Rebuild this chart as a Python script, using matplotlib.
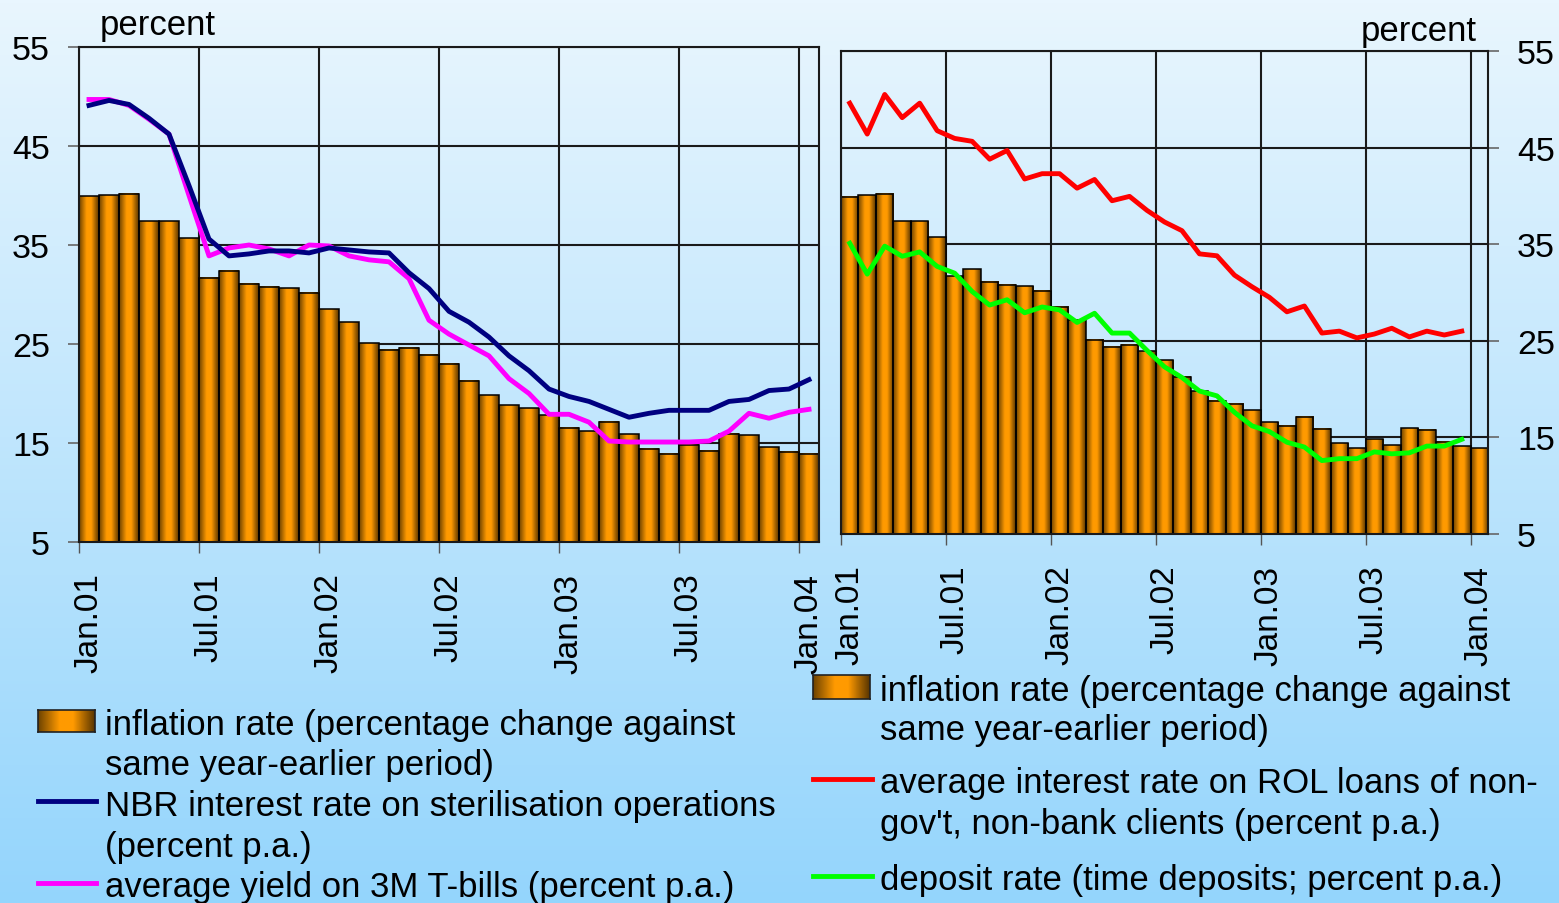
import numpy as np
import matplotlib
matplotlib.use('Agg')
import matplotlib.pyplot as plt
from matplotlib.colors import LinearSegmentedColormap
from matplotlib.lines import Line2D

plt.rcParams['font.family'] = ['Liberation Sans', 'DejaVu Sans']

# monthly data Jan.01 .. Jan.04
months = np.arange(37)
tick_pos = [0, 6, 12, 18, 24, 30, 36]
tick_labels = ['Jan.01', 'Jul.01', 'Jan.02', 'Jul.02', 'Jan.03', 'Jul.03', 'Jan.04']

inflation = [39.9, 40.05, 40.2, 37.4, 37.4, 35.7, 31.7, 32.4, 31.1, 30.8, 30.65, 30.2,
             28.5, 27.2, 25.1, 24.4, 24.6, 23.9, 23.0, 21.3, 19.8, 18.8, 18.5, 17.8,
             16.55, 16.2, 17.15, 15.9, 14.4, 13.9, 14.8, 14.2, 15.95, 15.8, 14.55, 14.1, 13.9]

nbr_rate = [49.1, 49.6, 49.2, 47.8, 46.2, 41.0, 35.6, 33.9, 34.1, 34.4, 34.4, 34.2,
            34.7, 34.5, 34.3, 34.2, 32.2, 30.6, 28.3, 27.2, 25.7, 23.8, 22.3, 20.45,
            19.7, 19.2, 18.4, 17.6, 18.0, 18.3, 18.3, 18.3, 19.2, 19.4, 20.3, 20.45, 21.4]

tbill_yield = [49.7, 49.7, 49.1, 47.7, 46.2, 40.0, 33.9, 34.7, 35.0, 34.6, 33.9, 35.0,
               34.9, 33.9, 33.5, 33.3, 31.6, 27.4, 26.0, 24.9, 23.8, 21.5, 20.0, 17.9,
               17.9, 17.1, 15.2, 15.1, 15.1, 15.1, 15.1, 15.2, 16.2, 18.0, 17.5, 18.1, 18.4]

loan_rate = [49.6, 46.4, 50.5, 48.1, 49.6, 46.75, 45.95, 45.65, 43.8, 44.7, 41.75, 42.3,
             42.3, 40.8, 41.7, 39.5, 39.95, 38.5, 37.3, 36.4, 34.0, 33.8, 31.8, 30.6,
             29.5, 28.0, 28.6, 25.8, 26.0, 25.3, 25.7, 26.3, 25.4, 26.0, 25.6, 26.0]

deposit_rate = [35.1, 31.9, 34.8, 33.75, 34.2, 32.7, 32.0, 30.1, 28.7, 29.25, 27.9, 28.5,
                28.2, 26.9, 27.85, 25.8, 25.8, 24.0, 22.3, 21.2, 19.8, 19.3, 17.6, 16.2,
                15.6, 14.5, 14.0, 12.6, 12.8, 12.8, 13.5, 13.3, 13.4, 14.1, 14.1, 14.8]

W, H = 1559, 904
fig = plt.figure(figsize=(W / 100, H / 100), dpi=100)

# background gradient
bg = fig.add_axes([0, 0, 1, 1], zorder=-10)
top = np.array([233, 246, 254]) / 255
bot = np.array([148, 213, 252]) / 255
t = np.linspace(0, 1, 256)[:, None]
grad = top[None, :] * (1 - t) + bot[None, :] * t
bg.imshow(grad[:, None, :], aspect='auto', extent=[0, 1, 0, 1])
bg.axis('off')

bar_cmap = LinearSegmentedColormap.from_list(
    'cyl', [(0, '#6e4300'), (0.38, '#ff9a00'), (0.62, '#ff9a00'), (1, '#5a3600')])
bar_grad = np.linspace(0, 1, 64)[None, :]


def box(l, t_, r, b):
    return [l / W, 1 - b / H, (r - l) / W, (b - t_) / H]


def gradient_bars(ax, x, h):
    for xi, hi in zip(x, h):
        ax.imshow(bar_grad, cmap=bar_cmap, aspect='auto',
                  extent=[xi - 0.5, xi + 0.5, 0, hi], zorder=1.5)
    ax.bar(x, h, width=1.0, facecolor='none', edgecolor='black',
           linewidth=1.1, zorder=1.6)


def setup(ax, side):
    ax.set_facecolor('none')
    ax.set_xlim(-0.5, 36.5)
    ax.set_ylim(5, 55)
    ax.set_yticks([5, 15, 25, 35, 45, 55])
    ax.set_xticks(tick_pos)
    ax.set_xticklabels(tick_labels, rotation=90, fontsize=24)
    ax.set_xticks(np.arange(-0.5, 37, 6), minor=True)
    ax.tick_params(axis='x', which='major', length=0, pad=22)
    ax.tick_params(axis='x', which='minor', length=8, width=1, color='#555555')
    ax.tick_params(axis='y', length=8, width=1.2, color='#666666', labelsize=24.5, pad=13)
    if side == 'right':
        ax.yaxis.tick_right()
    ax.grid(True, which='minor', axis='x', color='#1a1a1a', linewidth=1.5)
    ax.grid(True, which='major', axis='y', color='#1a1a1a', linewidth=1.5)
    ax.set_axisbelow(True)
    for s in ax.spines.values():
        s.set_color('#1a1a1a')
        s.set_linewidth(1.5)


LW = 3.5

# left panel
ax1 = fig.add_axes(box(79, 48, 819, 543))
setup(ax1, 'left')
gradient_bars(ax1, months, inflation)
ax1.plot(months, tbill_yield, color='#ff00ff', linewidth=LW, zorder=3)
ax1.plot(months, nbr_rate, color='#000080', linewidth=LW, zorder=3.1)
ax1.set_ylim(5, 55)
ax1.set_xlim(-0.5, 36.5)

# right panel
ax2 = fig.add_axes(box(841, 52, 1488, 535))
setup(ax2, 'right')
gradient_bars(ax2, months, inflation)
ax2.plot(months[:len(loan_rate)], loan_rate, color='#ff0000', linewidth=LW, zorder=3)
ax2.plot(months[:len(deposit_rate)], deposit_rate, color='#00ff00', linewidth=LW, zorder=3)
ax2.set_ylim(5, 55)
ax2.set_xlim(-0.5, 36.5)

fig.text(100 / W, 1 - 25 / H, 'percent', fontsize=25, va='center', ha='left')
fig.text(1477 / W, 1 - 31 / H, 'percent', fontsize=25, va='center', ha='right')


# legends
def key_bar(l, t_, r, b):
    k = fig.add_axes(box(l, t_, r, b))
    k.imshow(bar_grad, cmap=bar_cmap, aspect='auto')
    k.set_xticks([])
    k.set_yticks([])
    for s in k.spines.values():
        s.set_color('#222222')
        s.set_linewidth(1.2)


def key_line(l, r, y, color):
    fig.add_artist(Line2D([l / W, r / W], [1 - y / H, 1 - y / H], color=color,
                          linewidth=LW, transform=fig.transFigure))


def leg_text(x, y, s):
    fig.text(x / W, 1 - (y + 3) / H, s, fontsize=25, va='center', ha='left')


key_bar(38, 711, 95, 733)
leg_text(105, 722, 'inflation rate (percentage change against')
leg_text(105, 763, 'same year-earlier period)')
key_line(38, 96, 802, '#000080')
leg_text(105, 804, 'NBR interest rate on sterilisation operations')
leg_text(105, 845, '(percent p.a.)')
key_line(38, 96, 884, '#ff00ff')
leg_text(105, 885, 'average yield on 3M T-bills (percent p.a.)')

key_bar(813, 676, 870, 700)
leg_text(880, 688, 'inflation rate (percentage change against')
leg_text(880, 728, 'same year-earlier period)')
key_line(813, 872, 780, '#ff0000')
leg_text(880, 781, "average interest rate on ROL loans of non-")
leg_text(880, 822, "gov't, non-bank clients (percent p.a.)")
key_line(813, 872, 877, '#00ff00')
leg_text(880, 878, 'deposit rate (time deposits; percent p.a.)')

fig.savefig('out.png', dpi=100)
